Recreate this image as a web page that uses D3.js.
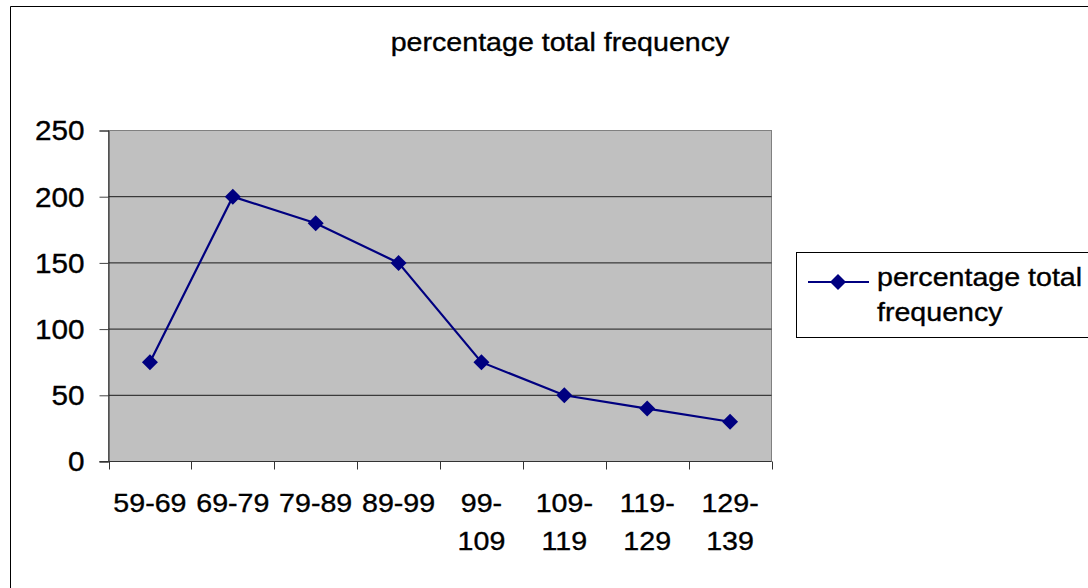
<!DOCTYPE html>
<html>
<head>
<meta charset="utf-8">
<script src="https://cdn.jsdelivr.net/npm/d3@7"></script>
<style>
  html, body { margin: 0; padding: 0; background: #fff; }
  svg { display: block; }
  text { font-family: "Liberation Sans", Arial, sans-serif; fill: #000; stroke: #000; stroke-width: 0.35px; }
</style>
</head>
<body>
<svg id="chart" width="1088" height="588"></svg>
<script>
// data
const categories = ["59-69", "69-79", "79-89", "89-99", "99-109", "109-119", "119-129", "129-139"];
const values = [75, 200, 180, 150, 75, 50, 40, 30];
const yTicks = [0, 50, 100, 150, 200, 250];
const seriesName = "percentage total frequency";

const svg = d3.select("#chart");
const sx = 1.1; // text in the original is a bit wide
const fontSize = 26;

const plot = { left: 108.5, right: 771.5, top: 130.5, bottom: 461.5 };

const x = d3.scaleBand()
  .domain(categories)
  .range([plot.left, plot.right])
  .padding(0);

const y = d3.scaleLinear()
  .domain([0, 250])
  .range([plot.bottom, plot.top]);

// helper for stretched text
function label(g, str, tx, ty, anchor) {
  return g.append("text")
    .attr("transform", `translate(${tx},${ty}) scale(${sx},1)`)
    .attr("text-anchor", anchor || "start")
    .style("font-size", fontSize + "px")
    .text(str);
}

// outer chart border
svg.append("path")
  .attr("d", "M10.5,588 L10.5,6.5 L1088,6.5")
  .attr("fill", "none")
  .attr("stroke", "#000")
  .attr("stroke-width", 1);

// title
label(svg, seriesName, 560, 51, "middle");

// plot background
svg.append("rect")
  .attr("x", plot.left)
  .attr("y", plot.top)
  .attr("width", plot.right - plot.left)
  .attr("height", plot.bottom - plot.top)
  .attr("fill", "#c0c0c0")
  .attr("stroke", "#808080");

// gridlines
svg.append("g")
  .selectAll("line")
  .data(yTicks.filter(d => d > 0 && d < 250))
  .enter()
  .append("line")
  .attr("x1", plot.left)
  .attr("x2", plot.right)
  .attr("y1", d => y(d))
  .attr("y2", d => y(d))
  .attr("stroke", "#1a1a1a")
  .attr("stroke-width", 1);

// y axis
const yAxis = svg.append("g")
  .attr("transform", `translate(${plot.left},0)`)
  .call(d3.axisLeft(y).tickValues(yTicks).tickSize(9).tickPadding(0));
yAxis.select(".domain").attr("stroke", "#222");
yAxis.selectAll(".tick line").attr("stroke", "#444");
yAxis.selectAll(".tick text")
  .attr("x", null)
  .attr("dy", "0.35em")
  .attr("text-anchor", "end")
  .attr("font-family", null)
  .attr("font-size", null)
  .attr("fill", null)
  .style("font-size", "27px")
  .attr("transform", `translate(-24,0) scale(${sx},1)`);

// x axis: ticks at the band edges
const edges = categories.map(c => x(c)).concat([plot.right]);
const xAxis = svg.append("g");
xAxis.append("line")
  .attr("x1", plot.left - 9)
  .attr("x2", plot.right)
  .attr("y1", plot.bottom)
  .attr("y2", plot.bottom)
  .attr("stroke", "#333");
xAxis.selectAll("line.tick")
  .data(edges)
  .enter()
  .append("line")
  .attr("class", "tick")
  .attr("x1", d => Math.round(d) + 0.5)
  .attr("x2", d => Math.round(d) + 0.5)
  .attr("y1", plot.bottom)
  .attr("y2", plot.bottom + 8)
  .attr("stroke", "#333");

// x labels, wrapped the way the original wraps the long ones
categories.forEach(c => {
  const cx = x(c) + x.bandwidth() / 2;
  if (c.length > 5) {
    const parts = c.split("-");
    label(svg, parts[0] + "-", cx, 512, "middle");
    label(svg, parts[1], cx, 550, "middle");
  } else {
    label(svg, c, cx, 512, "middle");
  }
});

// series line
const line = d3.line()
  .x((d, i) => x(categories[i]) + x.bandwidth() / 2)
  .y(d => y(d));

svg.append("path")
  .datum(values)
  .attr("d", line)
  .attr("fill", "none")
  .attr("stroke", "#000080")
  .attr("stroke-width", 2.2);

const diamond = d3.symbol().type(d3.symbolSquare).size(128);

svg.append("g")
  .selectAll("path")
  .data(values)
  .enter()
  .append("path")
  .attr("d", diamond)
  .attr("transform", (d, i) => `translate(${x(categories[i]) + x.bandwidth() / 2},${y(d)}) rotate(45)`)
  .attr("fill", "#000080");

// legend
const legend = svg.append("g");
legend.append("rect")
  .attr("x", 796.5)
  .attr("y", 252.5)
  .attr("width", 320)
  .attr("height", 85)
  .attr("fill", "#fff")
  .attr("stroke", "#000");
legend.append("line")
  .attr("x1", 808)
  .attr("x2", 869)
  .attr("y1", 282)
  .attr("y2", 282)
  .attr("stroke", "#000080")
  .attr("stroke-width", 2.2);
legend.append("path")
  .attr("d", diamond)
  .attr("transform", "translate(838,282) rotate(45)")
  .attr("fill", "#000080");
label(legend, "percentage total", 877, 286);
label(legend, "frequency", 877, 321);
</script>
</body>
</html>
